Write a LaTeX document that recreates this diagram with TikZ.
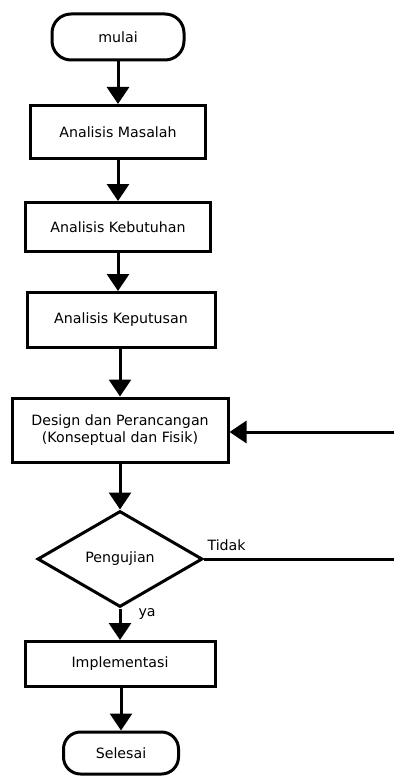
\documentclass[tikz,border=0pt]{standalone}
\usepackage{fontspec}
\setmainfont{DejaVu Sans}
\usetikzlibrary{arrows.meta,shapes.geometric}
\begin{document}
\begin{tikzpicture}[x=1pt,y=-1pt,
  font=\fontsize{14.2}{17}\selectfont,
  every node/.style={inner sep=0pt, line width=3pt},
  term/.style={draw, rectangle, rounded corners=19pt, align=center},
  procbox/.style={draw, rectangle, align=center},
  decide/.style={draw, diamond, aspect=1.72, minimum width=165pt, minimum height=96pt},
  flow/.style={line width=3pt, -{Triangle[width=22pt,length=17pt]}},
  plain/.style={line width=3pt}]
\useasboundingbox (0,0) rectangle (394,778);
\node[term, minimum width=132pt, minimum height=46pt] (mulai) at (118,37) {mulai};
\node[procbox, minimum width=175pt, minimum height=53pt] (masalah) at (118,132) {Analisis Masalah};
\node[procbox, minimum width=185pt, minimum height=49pt] (kebutuhan) at (118,227) {Analisis Kebutuhan};
\node[procbox, minimum width=188pt, minimum height=55pt] (keputusan) at (121,320) {Analisis Keputusan};
\node[procbox, minimum width=216pt, minimum height=64pt] (design) at (120,430) {Design dan Perancangan\\(Konseptual dan Fisik)};
\node[decide] (uji) at (120,559) {Pengujian};
\node[procbox, minimum width=190pt, minimum height=45pt] (impl) at (120,664) {Implementasi};
\node[term, minimum width=115pt, minimum height=42pt, rounded corners=17pt] (selesai) at (121,753) {Selesai};
\coordinate (r1) at (394,559);
\coordinate (r2) at (394,432);
\draw[flow] (mulai) -- (masalah);
\draw[flow] (masalah) -- (kebutuhan);
\draw[flow] (kebutuhan.south) -- (kebutuhan.south |- keputusan.north);
\draw[flow] (keputusan.south -| design.north) -- (design.north);
\draw[flow] (design) -- (uji);
\draw[flow] (uji) -- (impl);
\draw[flow] (impl.south -| selesai.north) -- (selesai.north);
\draw[plain] (uji.east) -- (r1);
\draw[flow] (r2) -- (r2 -| design.east);
\node[anchor=base west] (tidak) at (206,550) {Tidak};
\node[anchor=base west] (ya) at (137,616) {ya};
\end{tikzpicture}
\end{document}
